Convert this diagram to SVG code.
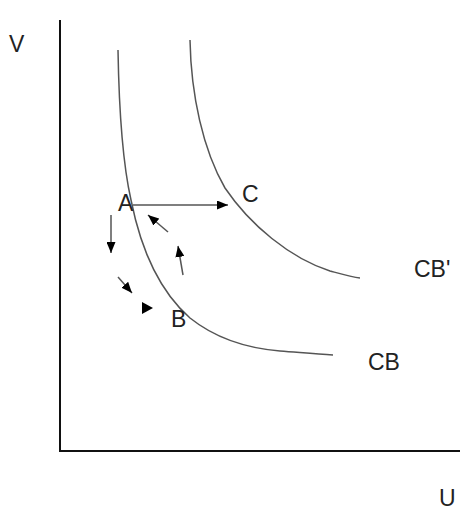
<svg xmlns="http://www.w3.org/2000/svg" width="462" height="511" viewBox="0 0 462 511">
<style>
.lbl{font-family:"Liberation Sans",Arial,sans-serif;font-size:23px;fill:#222}
.axis{stroke:#111;stroke-width:2;fill:none}
.curve{stroke:#555;stroke-width:1.5;fill:none}
.arr{stroke:#555;stroke-width:1.5;fill:none;marker-end:url(#head)}
</style>
<defs>
<marker id="head" markerUnits="userSpaceOnUse" markerWidth="11" markerHeight="9" refX="11" refY="4.5" orient="auto">
<path d="M0,0 L11,4.5 L0,9 z" fill="#000"/>
</marker>
</defs>
<rect width="462" height="511" fill="#fff"/>
<g id="axes">
<path class="axis" d="M60,20 L60,451 L460,451"/>
<text class="lbl" x="9" y="52">V</text>
<text class="lbl" x="439" y="506">U</text>
</g>
<g id="CB">
<path class="curve" d="M118,50 C119,110 122,160 131,200 C140,245 158,290 190,318 C215,338 245,348 280,351 C300,352.5 315,354 333,355"/>
<text class="lbl" x="368" y="370">CB</text>
</g>
<g id="CBprime">
<path class="curve" d="M190,40 C191,95 203,150 225,188 C250,225 290,258 330,271 C345,275 352,277 360,278"/>
<text class="lbl" x="414" y="277">CB'</text>
</g>
<g id="A"><text class="lbl" x="118" y="211">A</text></g>
<g id="B"><text class="lbl" x="171" y="327">B</text></g>
<g id="C"><text class="lbl" x="242" y="202">C</text></g>
<g id="connectors">
<line class="arr" x1="133" y1="205" x2="228" y2="205"/>
<line class="arr" x1="111" y1="215" x2="111" y2="253"/>
<line class="arr" x1="118" y1="277" x2="132" y2="293"/>
<polygon points="142,302 153,308 142,314" fill="#000"/>
<line class="arr" x1="183" y1="275" x2="178" y2="246"/>
<line class="arr" x1="168" y1="232" x2="148" y2="215"/>
</g>
</svg>
